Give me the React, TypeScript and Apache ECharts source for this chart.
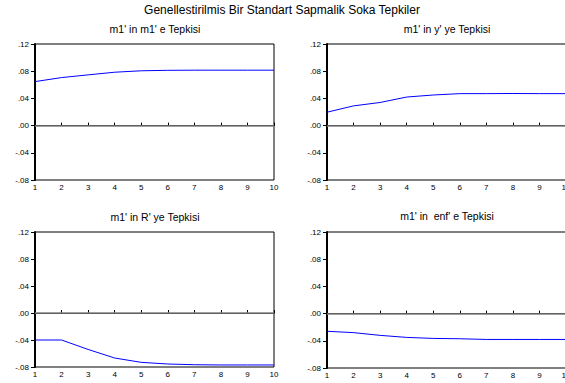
import React, { useEffect, useRef } from "react";
import * as echarts from "echarts";

const periods = ["1", "2", "3", "4", "5", "6", "7", "8", "9", "10"];
const m1ToM1 = [0.0647, 0.0706, 0.0746, 0.0785, 0.0806, 0.0813, 0.0815, 0.0815, 0.0815, 0.0815];
const m1ToY = [0.0197, 0.029, 0.034, 0.042, 0.045, 0.047, 0.047, 0.0472, 0.047, 0.047];
const m1ToR = [-0.04, -0.04, -0.054, -0.0667, -0.0731, -0.0756, -0.0766, -0.077, -0.077, -0.077];
const m1ToEnf = [-0.026, -0.028, -0.032, -0.035, -0.0365, -0.037, -0.038, -0.038, -0.038, -0.038];
const panelTitles = ["m1' in m1' e Tepkisi", "m1' in y' ye Tepkisi", "m1' in R' ye Tepkisi", "m1' in  enf' e Tepkisi"];
const mainTitle = "Genellestirilmis Bir Standart Sapmalik Soka Tepkiler";

const FONT = "'Liberation Sans', Arial, sans-serif";

export default function App() {
  const ref = useRef<HTMLDivElement>(null);
  useEffect(() => {
    if (!ref.current) return;
    const chart = echarts.init(ref.current, null, { renderer: "svg" });
    const grids = [
      { left: 35, top: 44, width: 239, height: 136 },
      { left: 327, top: 44, width: 239, height: 136 },
      { left: 35, top: 232, width: 239, height: 135 },
      { left: 327, top: 232, width: 239, height: 136 },
    ];
    const seriesData = [m1ToM1, m1ToY, m1ToR, m1ToEnf];
    const titleCenters = [
      [155, 29],
      [447, 29],
      [155, 217],
      [447, 216],
    ];
    const fmt = (v: number) => {
      const s = v.toFixed(2);
      return s.replace(/^(-?)0\./, "$1.");
    };
    chart.setOption({
      animation: false,
      backgroundColor: "#ffffff",
      grid: grids.map((g) => ({
        ...g,
        show: true,
        outerBoundsMode: "none",
        containLabel: false,
        borderColor: "#000",
        borderWidth: 1,
        backgroundColor: "transparent",
      })),
      xAxis: grids.map((_, i) => ({
        type: "category",
        gridIndex: i,
        data: periods,
        boundaryGap: false,
        axisLine: { show: true, lineStyle: { color: "#000", width: 1 } },
        axisTick: { show: true, inside: true, length: 3, lineStyle: { color: "#000" } },
        axisLabel: { color: "#000", fontSize: 8, fontFamily: FONT, margin: 3 },
        splitLine: { show: false },
      })),
      yAxis: grids.map((_, i) => ({
        type: "value",
        gridIndex: i,
        min: -0.08,
        max: 0.12,
        interval: 0.04,
        axisLine: { show: true, lineStyle: { color: "#000", width: 2 } },
        axisTick: { show: true, length: 4, lineStyle: { color: "#000" } },
        axisLabel: { color: "#000", fontSize: 8, fontFamily: FONT, margin: 6, formatter: fmt },
        splitLine: { show: false },
      })),
      series: seriesData.map((d, i) => ({
        type: "line",
        xAxisIndex: i,
        yAxisIndex: i,
        data: d,
        symbol: "none",
        lineStyle: { color: "#0000ff", width: 1 },
        markLine: {
          silent: true,
          symbol: "none",
          label: { show: false },
          lineStyle: { color: "#808080", type: "solid", width: 1.5 },
          data: [{ yAxis: 0 }],
        },
      })),
      graphic: [
        {
          type: "text",
          x: 282,
          y: 10,
          style: { text: mainTitle, align: "center", verticalAlign: "middle", font: `12px ${FONT}`, fill: "#000" },
        },
        ...panelTitles.map((t, i) => ({
          type: "text",
          x: titleCenters[i][0],
          y: titleCenters[i][1],
          style: { text: t, align: "center", verticalAlign: "middle", font: `10.5px ${FONT}`, fill: "#000" },
        })),
      ],
    });
    return () => chart.dispose();
  }, []);
  return (
    <div
      ref={ref}
      style={{ position: "fixed", left: 0, top: 0, width: 565, height: 383 }}
    />
  );
}
